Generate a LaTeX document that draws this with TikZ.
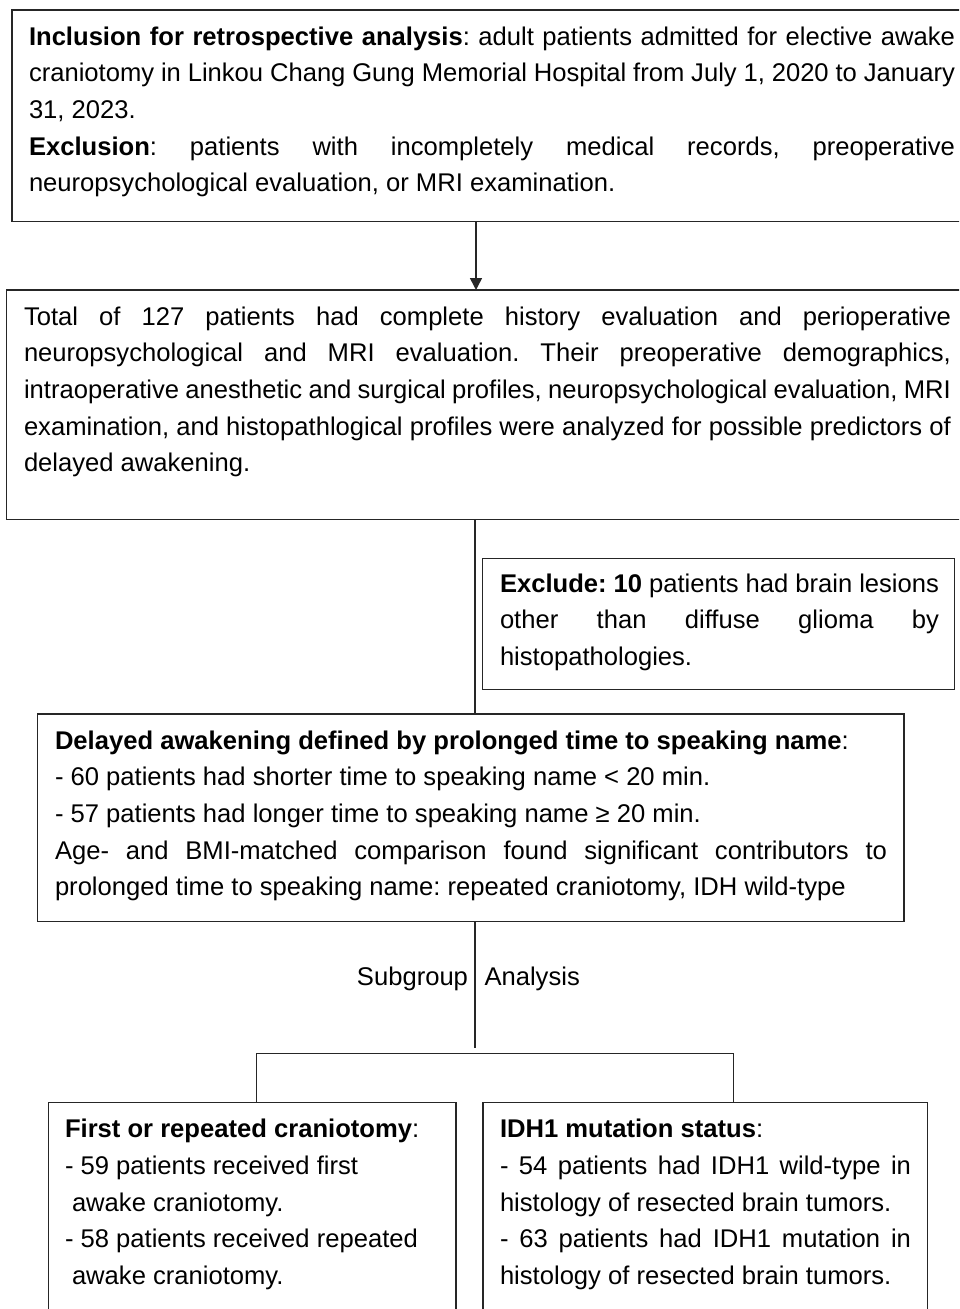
\documentclass[tikz,border=0pt]{standalone}
\usepackage{fontspec}
\setmainfont{Liberation Sans}
\usetikzlibrary{arrows.meta}
\frenchspacing
\newcommand{\rsp}{\spaceskip=0pt\xspaceskip=0pt\relax}
\newcommand{\jline}[1]{\makebox[\hsize][s]{\rsp #1}}
\begin{document}
\begin{tikzpicture}[x=1pt,y=-1pt,
  frame/.style={draw=black!85,line width=1.5pt,rectangle,inner sep=0pt,outer sep=0pt,anchor=north west},
  txt/.style={inner sep=0pt,outer sep=0pt,anchor=base west,align=left,font=\fontsize{25.6}{36.7}\selectfont\frenchspacing},
  lbl/.style={inner sep=0pt,outer sep=0pt,font=\fontsize{25.6}{36.7}\selectfont},
  conn/.style={draw=black!85,line width=1.5pt},
  arr/.style={conn,-{Triangle[length=12pt,width=12pt]}}]
\useasboundingbox (0,0) rectangle (959,1309);
\clip (0,0) rectangle (959,1309);
\fill[white] (0,0) rectangle (959,1309);

% frames
\node[frame,minimum width=970pt,minimum height=211.7pt] (b1) at (12,10) {};
\node[frame,minimum width=975pt,minimum height=229.5pt] (b2) at (6.5,290) {};
\node[frame,minimum width=472pt,minimum height=131.2pt] (ex) at (482.5,558.3) {};
\node[frame,minimum width=866.5pt,minimum height=207.7pt] (b3) at (37.5,714) {};
\node[frame,minimum width=407.7pt,minimum height=240pt] (bl) at (48.3,1102.5) {};
\node[frame,minimum width=444.7pt,minimum height=240pt] (br) at (483,1102.5) {};

% texts
\node[txt,text width=926pt] (t1) at (29,45) {\rsp
\jline{\textbf{Inclusion for retrospective analysis}: adult patients admitted for elective awake}\\
\jline{craniotomy in Linkou Chang Gung Memorial Hospital from July 1, 2020 to January}\\
31, 2023.\\
\jline{\textbf{Exclusion}: patients with incompletely medical records, preoperative}\\
neuropsychological evaluation, or MRI examination.};

\node[txt,text width=927pt] (t2) at (24,325) {\rsp
\jline{Total of 127 patients had complete history evaluation and perioperative}\\
\jline{neuropsychological and MRI evaluation. Their preoperative demographics,}\\
\jline{intraoperative anesthetic and surgical profiles, neuropsychological evaluation, MRI}\\
\jline{examination, and histopathlogical profiles were analyzed for possible predictors of}\\
delayed awakening.};

\node[txt,text width=439pt] (tex) at (500,592) {\rsp
\jline{\textbf{Exclude: 10} patients had brain lesions}\\
\jline{other than diffuse glioma by}\\
histopathologies.};

\node[txt,text width=832pt] (t3) at (55,749) {\rsp
\textbf{Delayed awakening defined by prolonged time to speaking name}:\\
- 60 patients had shorter time to speaking name < 20 min.\\
- 57 patients had longer time to speaking name ≥ 20 min.\\
\jline{Age- and BMI-matched comparison found significant contributors to}\\
prolonged time to speaking name: repeated craniotomy, IDH wild-type};

\node[txt,text width=380pt] (tbl) at (65,1137.7) {\rsp
\textbf{First or repeated craniotomy}:\\
- 59 patients received first\\
\hspace*{7pt}awake craniotomy.\\
- 58 patients received repeated\\
\hspace*{7pt}awake craniotomy.};

\node[txt,text width=411pt] (tbr) at (500,1137.7) {\rsp
\textbf{IDH1 mutation status}:\\
\jline{- 54 patients had IDH1 wild-type in}\\
histology of resected brain tumors.\\
\jline{- 63 patients had IDH1 mutation in}\\
histology of resected brain tumors.};

% connectors
\coordinate (m1) at (476,0);
\coordinate (m2) at (475,0);
\coordinate (se) at (475,1048.3);
\coordinate (hl) at (256.7,1053.3);
\coordinate (hr) at (733.3,1053.3);

\draw[arr] (b1.south -| m1) -- (b2.north -| m1);
\draw[conn] (b2.south -| m2) -- (b3.north -| m2);
\draw[conn] (b3.south -| m2) -- (se);
\draw[conn] (bl.north -| hl) -- (hl) -- (hr) -- (br.north -| hr);

\node[lbl,anchor=base east] (sg) at (468,985) {Subgroup};
\node[lbl,anchor=base west] (an) at (484.5,985) {Analysis};
\end{tikzpicture}
\end{document}
